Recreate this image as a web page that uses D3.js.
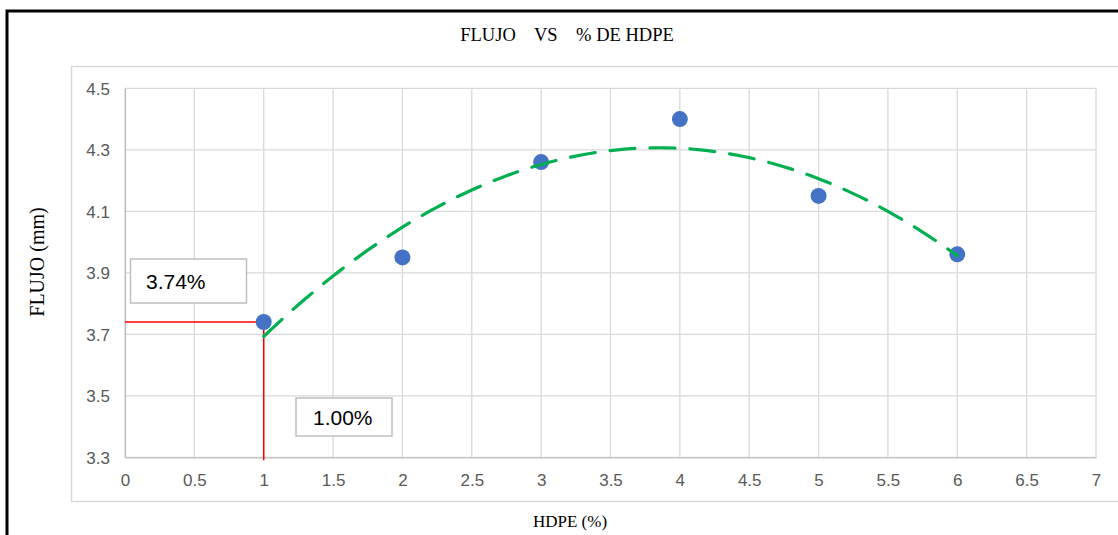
<!DOCTYPE html>
<html>
<head>
<meta charset="utf-8">
<script src="https://cdn.jsdelivr.net/npm/d3@7"></script>
<style>
  html, body { margin: 0; padding: 0; background: #fff; }
  svg { display: block; }
</style>
</head>
<body>
<svg id="chart" width="1118" height="535"></svg>
<script>
// Flow (mm) measured at each HDPE content (%)
const hdpe = [1, 2, 3, 4, 5, 6];
const flujo = [3.74, 3.95, 4.26, 4.40, 4.15, 3.96];

const xTicks = [0, 0.5, 1, 1.5, 2, 2.5, 3, 3.5, 4, 4.5, 5, 5.5, 6, 6.5, 7];
const yTicks = [3.3, 3.5, 3.7, 3.9, 4.1, 4.3, 4.5];

// Reference point marked with red guide lines
const marker = { x: 1.00, y: 3.74 };
const markerLabels = { x: "1.00%", y: "3.74%" };

const title = "FLUJO    VS    % DE HDPE";
const xTitle = "HDPE (%)";
const yTitle = "FLUJO (mm)";

const svg = d3.select("#chart");
const W = 1118, H = 535;

// Outer border
svg.append("rect")
  .attr("x", 7).attr("y", 11).attr("width", W + 20).attr("height", H + 20)
  .attr("fill", "#fff").attr("stroke", "#000").attr("stroke-width", 3);

// Chart frame
svg.append("rect")
  .attr("x", 71.5).attr("y", 66.5).attr("width", W).attr("height", 435)
  .attr("fill", "none").attr("stroke", "#d9d9d9").attr("stroke-width", 1.5);

const x = d3.scaleLinear().domain([0, 7]).range([125, 1096]);
const y = d3.scaleLinear().domain([3.3, 4.5]).range([457.3, 88.3]);

// Gridlines
const grid = svg.append("g");
grid.selectAll(".vg").data(xTicks).join("line")
  .attr("x1", d => x(d)).attr("x2", d => x(d))
  .attr("y1", y(4.5)).attr("y2", y(3.3))
  .attr("stroke", "#d9d9d9").attr("stroke-width", 1.3);
grid.selectAll(".hg").data(yTicks).join("line")
  .attr("x1", x(0)).attr("x2", x(7))
  .attr("y1", d => y(d)).attr("y2", d => y(d))
  .attr("stroke", "#d9d9d9").attr("stroke-width", 1.3);

// Axes
const xAxis = svg.append("g")
  .attr("transform", `translate(0,${y(3.3)})`)
  .call(d3.axisBottom(x).tickValues(xTicks).tickSize(0).tickPadding(16.5).tickFormat(d3.format("~g")));
const yAxis = svg.append("g")
  .attr("transform", `translate(${x(0)},0)`)
  .call(d3.axisLeft(y).tickValues(yTicks).tickSize(0).tickPadding(15).tickFormat(d3.format(".1f")));
[xAxis, yAxis].forEach(g => {
  g.select(".domain").attr("stroke", "#bfbfbf").attr("stroke-width", 1.3);
  g.selectAll("text")
    .attr("fill", "#595959")
    .attr("font-family", "Liberation Sans, Arial, sans-serif")
    .attr("font-size", 17);
});
yAxis.selectAll("text").attr("dy", "0.35em");

// Red guide lines
svg.append("path")
  .attr("d", `M${x(0)},${y(marker.y)}H${x(marker.x)}V${y(3.3) + 3}`)
  .attr("fill", "none").attr("stroke", "#ff0000").attr("stroke-width", 1.5);

// Data points
svg.selectAll(".pt").data(hdpe.map((h, i) => [h, flujo[i]])).join("circle")
  .attr("cx", d => x(d[0])).attr("cy", d => y(d[1]))
  .attr("r", 8).attr("fill", "#4472c4");

// Second order polynomial trendline (least squares)
function quadFit(xs, ys) {
  let s = [0, 0, 0, 0, 0], t = [0, 0, 0];
  xs.forEach((xv, i) => {
    for (let k = 0; k < 5; k++) s[k] += Math.pow(xv, k);
    for (let k = 0; k < 3; k++) t[k] += ys[i] * Math.pow(xv, k);
  });
  const A = [[s[0], s[1], s[2], t[0]], [s[1], s[2], s[3], t[1]], [s[2], s[3], s[4], t[2]]];
  for (let i = 0; i < 3; i++) {
    for (let j = i + 1; j < 3; j++) {
      const f = A[j][i] / A[i][i];
      for (let k = i; k < 4; k++) A[j][k] -= f * A[i][k];
    }
  }
  const c = [0, 0, 0];
  for (let i = 2; i >= 0; i--) {
    let v = A[i][3];
    for (let k = i + 1; k < 3; k++) v -= A[i][k] * c[k];
    c[i] = v / A[i][i];
  }
  return xv => c[0] + c[1] * xv + c[2] * xv * xv;
}
const trend = quadFit(hdpe, flujo);
const trendPts = d3.range(0, 101).map(i => {
  const xv = hdpe[0] + (hdpe[hdpe.length - 1] - hdpe[0]) * i / 100;
  return [xv, trend(xv)];
});
svg.append("path")
  .attr("d", d3.line().x(d => x(d[0])).y(d => y(d[1]))(trendPts))
  .attr("fill", "none").attr("stroke", "#00b050").attr("stroke-width", 3.2)
  .attr("stroke-dasharray", "25,15").attr("stroke-linecap", "round");

// Value labels
function labelBox(bx, by, w, h, tx, ty, text) {
  svg.append("rect")
    .attr("x", bx).attr("y", by).attr("width", w).attr("height", h)
    .attr("fill", "#fff").attr("stroke", "#bfbfbf").attr("stroke-width", 1.5);
  svg.append("text")
    .attr("x", tx).attr("y", ty).attr("dy", "0.36em")
    .attr("font-family", "Liberation Sans, Arial, sans-serif")
    .attr("font-size", 21).attr("fill", "#000")
    .text(text);
}
labelBox(130.5, 259, 116, 44, 146, 281, markerLabels.y);
labelBox(296, 398, 96, 38, 313, 417.5, markerLabels.x);

// Titles
svg.append("text")
  .attr("x", 567).attr("y", 41)
  .attr("text-anchor", "middle").attr("xml:space", "preserve")
  .style("white-space", "pre")
  .attr("font-family", "Liberation Serif, Times New Roman, serif")
  .attr("font-size", 18.5).attr("fill", "#000")
  .text(title);
svg.append("text")
  .attr("x", 570).attr("y", 527)
  .attr("text-anchor", "middle")
  .attr("font-family", "Liberation Serif, Times New Roman, serif")
  .attr("font-size", 17).attr("fill", "#000")
  .text(xTitle);
svg.append("text")
  .attr("transform", "translate(44,262) rotate(-90)")
  .attr("text-anchor", "middle")
  .attr("font-family", "Liberation Serif, Times New Roman, serif")
  .attr("font-size", 20).attr("fill", "#000")
  .text(yTitle);
</script>
</body>
</html>
